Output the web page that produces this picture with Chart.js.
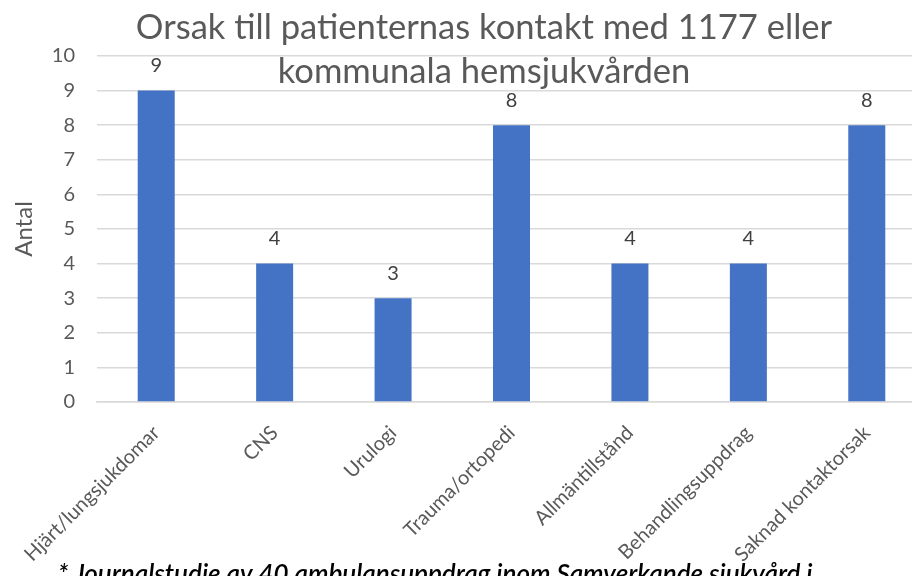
<!DOCTYPE html>
<html><head><meta charset="utf-8">
<script src="https://cdn.jsdelivr.net/npm/chart.js@4/dist/chart.umd.min.js"></script>
<style>
html,body{margin:0;padding:0;overflow:hidden;width:912px;height:576px;background:#fff}
#wrap{position:relative;width:930px;height:600px}
</style>
</head><body><div id="wrap"><canvas id="c" width="930" height="600"></canvas></div>
<script>
const categories = ["Hjärt/lungsjukdomar","CNS","Urulogi","Trauma/ortopedi","Allmäntillstånd","Behandlingsuppdrag","Saknad kontaktorsak"];
const values = [9,4,3,8,4,4,8];
const yMin = 0, yMax = 10, yStep = 1;
const titleLines = ["Orsak till patienternas kontakt med 1177 eller","kommunala hemsjukvården"];
const yAxisTitle = "Antal";
const footnote = "* Journalstudie av 40 ambulansuppdrag inom Samverkande sjukvård i";

const FONT = "Lato";
const overlay = {
  id: 'overlay',
  afterDatasetsDraw(chart) {
    const ctx = chart.ctx;
    const meta = chart.getDatasetMeta(0);
    ctx.save();
    ctx.font = "20px " + FONT;
    ctx.fillStyle = "#404040";
    ctx.textAlign = "center";
    ctx.textBaseline = "alphabetic";
    meta.data.forEach((bar, i) => {
      ctx.fillText(String(values[i]), bar.x, bar.y - 18.5);
    });
    ctx.restore();
  },
  afterDraw(chart) {
    const ctx = chart.ctx;
    ctx.save();
    ctx.fillStyle = "#595959";
    ctx.textAlign = "center";
    ctx.textBaseline = "alphabetic";
    ctx.font = "34.6px " + FONT;
    ctx.fillText(titleLines[0], 484, 39);
    ctx.fillText(titleLines[1], 484, 83);
    ctx.fillStyle = "#000000";
    ctx.textAlign = "left";
    ctx.font = "italic 600 26px " + FONT;
    ctx.fillText(footnote, 58, 583);
    ctx.restore();
  }
};

new Chart(document.getElementById('c'), {
  type: 'bar',
  data: {
    labels: categories,
    datasets: [{
      data: values,
      backgroundColor: '#4472C4',
      borderWidth: 0,
      barPercentage: 0.3125,
      categoryPercentage: 1
    }]
  },
  options: {
    responsive: false,
    animation: false,
    devicePixelRatio: 1,
    layout: { padding: { top: 56, right: 4, left: 0, bottom: 0 } },
    plugins: { legend: { display: false }, title: { display: false }, tooltip: { enabled: false } },
    scales: {
      x: {
        grid: { display: false },
        border: { color: '#D9D9D9', width: 1.5 },
        ticks: {
          font: { family: FONT, size: 20 },
          color: '#595959',
          minRotation: 45, maxRotation: 45,
          autoSkip: false,
          padding: 11
        },
        afterFit(s) { s.height = 198; }
      },
      y: {
        min: yMin, max: yMax,
        ticks: { stepSize: yStep, font: { family: FONT, size: 20 }, color: '#595959', padding: 22 },
        grid: { color: '#D9D9D9', lineWidth: 1.5, drawTicks: false },
        border: { display: false },
        title: { display: true, text: yAxisTitle, font: { family: FONT, size: 24 }, color: '#595959', padding: { top: 10, bottom: 0 } },
        afterFit(s) { s.width = 97; }
      }
    }
  },
  plugins: [overlay]
});
</script>
</body></html>
